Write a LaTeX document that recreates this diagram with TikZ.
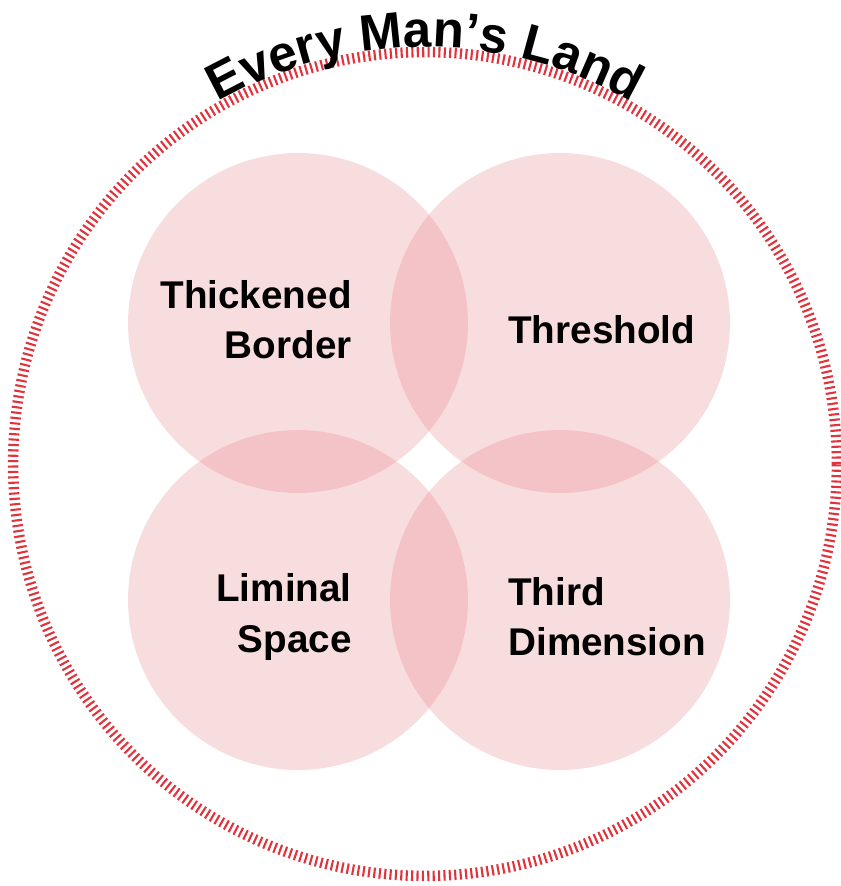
\documentclass[tikz,border=0pt]{standalone}
\usepackage{fontspec}
\setmainfont{Liberation Sans}
\usetikzlibrary{decorations.text}

\definecolor{ringred}{RGB}{226,50,60}
\definecolor{vennpink}{RGB}{226,113,122}
\newcommand{\titlefont}{\fontsize{29}{35}\selectfont\bfseries}

\begin{document}
\begin{tikzpicture}[x=0.02cm, y=0.02cm,
  venn/.style={circle, fill=vennpink, fill opacity=0.24, minimum size=6.8cm, inner sep=0pt},
  venntext/.style={font=\fontsize{22}{28.5}\selectfont\bfseries, inner sep=0pt},
  ringline/.style={circle, draw=ringred, line width=0.21cm, dash pattern=on 0.042cm off 0.066cm, minimum size=16.48cm, inner sep=0pt}]
\useasboundingbox (0,0) rectangle (841,886);
% outer ring and its title
\node[ringline] (ring) at (425,422) {};
\path[decorate, decoration={text along path, text align=center, text={|\titlefont|Every Man’s Land}}]
  (ring.center) ++(150:8.34cm) arc[start angle=150, end angle=30, radius=8.34cm];
% the four circles
\node[venn] (border) at (298,563) {};
\node[venn] (threshold) at (560,563) {};
\node[venn] (liminal) at (298,286) {};
\node[venn] (third) at (560,286) {};
% texts
\node[venntext, align=right, anchor=east] (borderlbl) at (352,566) {Thickened\\Border};
\node[venntext, align=left, anchor=west] (thresholdlbl) at (508,556) {Threshold};
\node[venntext, align=right, anchor=east] (liminallbl) at (352,269) {Liminal\\Space};
\node[venntext, align=left, anchor=west] (thirdlbl) at (508,269) {Third\\Dimension};
\end{tikzpicture}
\end{document}
